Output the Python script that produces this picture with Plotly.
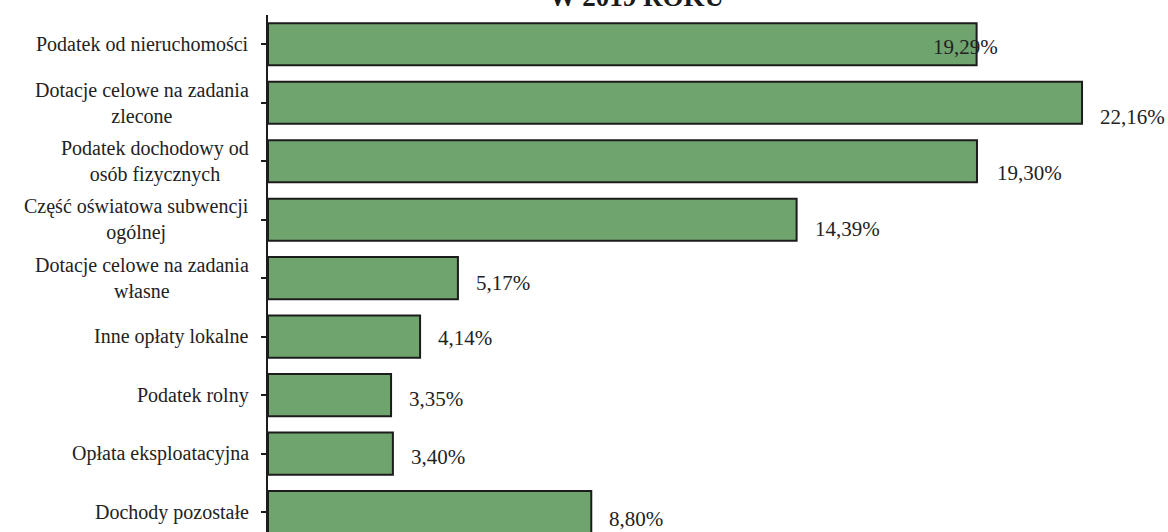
import plotly.graph_objects as go

categories = [
    "Podatek od nieruchomości",
    "Dotacje celowe na zadania<br>zlecone",
    "Podatek dochodowy od<br>osób fizycznych",
    "Część oświatowa subwencji<br>ogólnej",
    "Dotacje celowe na zadania<br>własne",
    "Inne opłaty lokalne",
    "Podatek rolny",
    "Opłata eksploatacyjna",
    "Dochody pozostałe",
]
values = [19.29, 22.16, 19.30, 14.39, 5.17, 4.14, 3.35, 3.40, 8.80]
value_labels = ["19,29%", "22,16%", "19,30%", "14,39%", "5,17%", "4,14%", "3,35%", "3,40%", "8,80%"]
title_text = "W 2019 ROKU"

# style (label offsets in pixels)
label_xshift = [-46, 16, 18, 16, 16, 16, 16, 16, 16]
label_yshift = [-3, -14, -12, -9, -5, -1, -4, -3, -7]
FONT = "Liberation Serif, Times New Roman, serif"
TXT = "#222222"

idx = list(range(len(categories)))

fig = go.Figure()
fig.add_trace(go.Bar(
    x=values, y=idx, orientation="h",
    width=0.72,
    marker=dict(color="rgb(112,164,110)", line=dict(color="#1c1c1c", width=2)),
    hoverinfo="skip",
))

annotations = []
for i, (c, v, t) in enumerate(zip(categories, values, value_labels)):
    annotations.append(dict(
        x=0, xref="paper", y=i, yref="y", text=c, showarrow=False,
        xanchor="right", yanchor="middle", align="center", xshift=-17,
        font=dict(family=FONT, size=20, color=TXT),
    ))
    annotations.append(dict(
        x=v, xref="x", y=i, yref="y", text=t, showarrow=False,
        xanchor="left", yanchor="middle",
        xshift=label_xshift[i], yshift=label_yshift[i],
        font=dict(family=FONT, size=21, color=TXT),
    ))
annotations.append(dict(
    x=0.409, xref="paper", y=1, yref="paper", text="<b>" + title_text + "</b>",
    showarrow=False, xanchor="center", yanchor="middle", yshift=18,
    font=dict(family=FONT, size=27, color="#1a1a1a"),
))

fig.update_layout(
    width=1168, height=532,
    margin=dict(l=268, r=0, t=15, b=0),
    paper_bgcolor="white", plot_bgcolor="white",
    showlegend=False,
    annotations=annotations,
    xaxis=dict(range=[0, 24.50], visible=False),
    yaxis=dict(
        range=[8.34, -0.5],
        tickmode="array", tickvals=idx, ticktext=[""] * len(idx),
        showline=True, linecolor="#1c1c1c", linewidth=2,
        ticks="outside", ticklen=5, tickcolor="#1c1c1c", tickwidth=2,
        tickson="boundaries", showgrid=False, zeroline=False,
    ),
)

fig.write_html("out.html", config={"displayModeBar": False},
               post_script="document.body.style.margin='0px';")
